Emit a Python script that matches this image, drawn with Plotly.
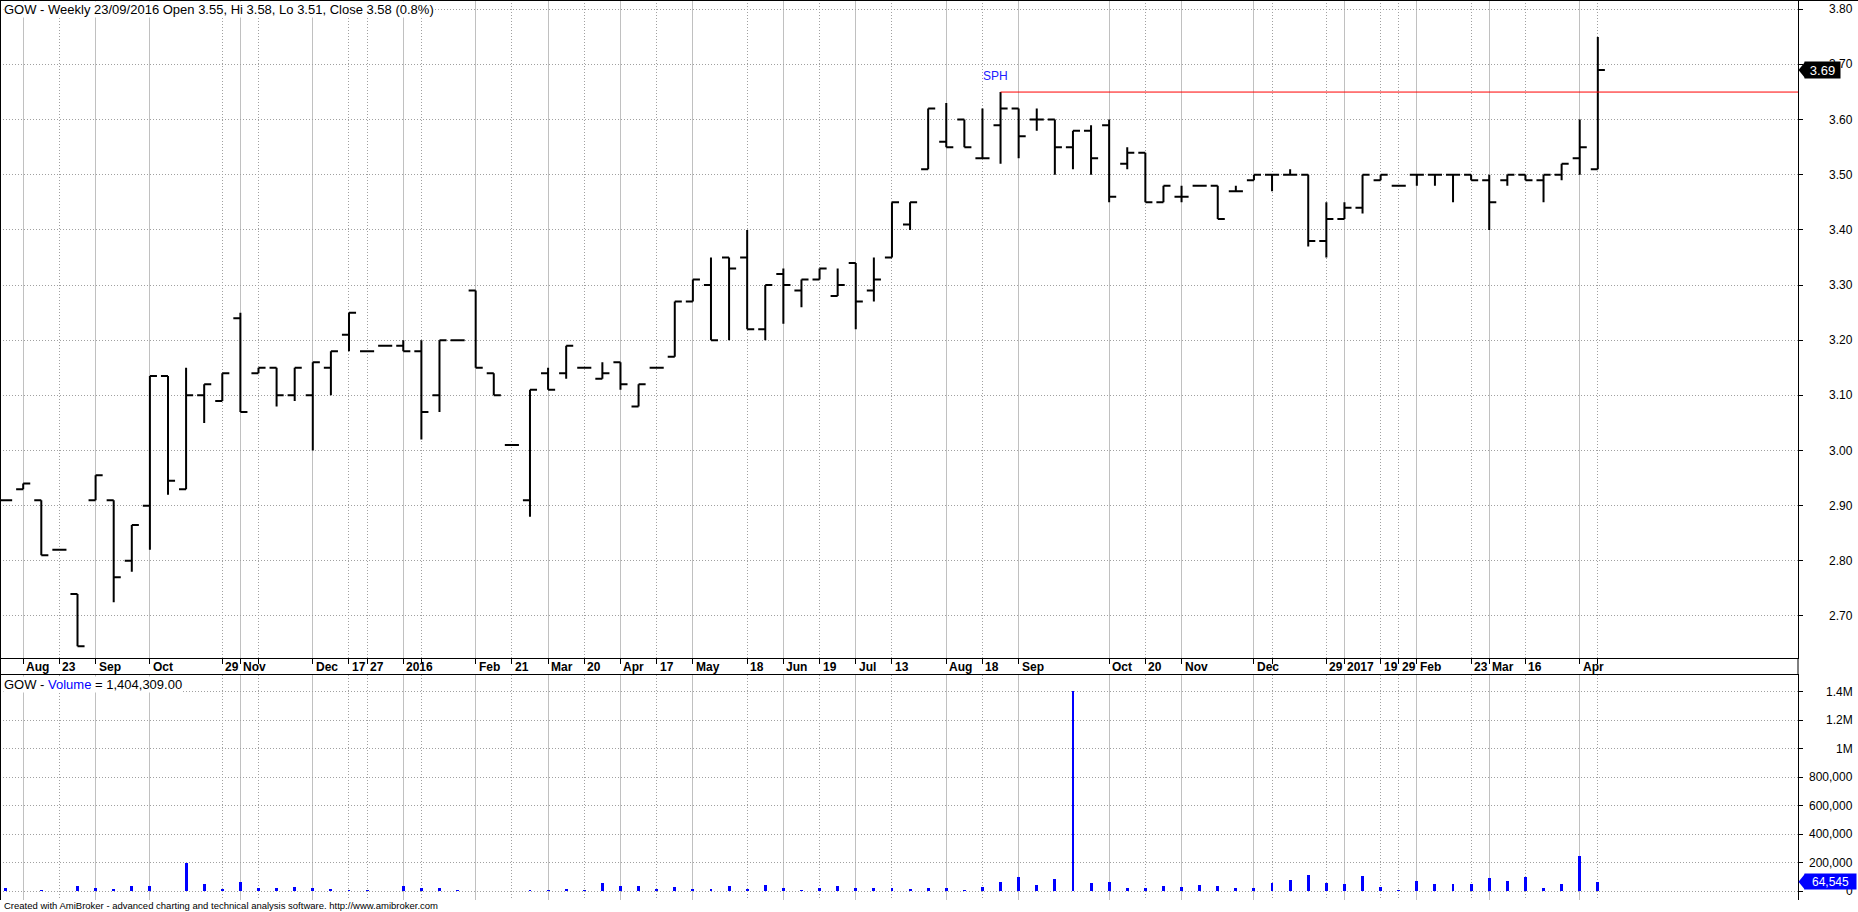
import plotly.graph_objects as go

# ---------------- data ----------------
bar_index = list(range(89))

opens = [2.91, 2.93, 2.91, 2.82, 2.74, 2.91, 2.91, 2.80, 2.90, 3.135,
         2.93, 3.10, 3.09, 3.24, 3.14, 3.15, 3.10, 3.10, 3.15, 3.21,
         3.18, 3.19, 3.19, 3.18, 3.10, 3.20, 3.29, 3.14, 3.01, 2.91,
         3.14, 3.14, 3.15, 3.13, 3.16, 3.08, 3.15, 3.17, 3.27, 3.30,
         3.35, 3.35, 3.22, 3.32, 3.29, 3.31, 3.28, 3.34, 3.29, 3.35,
         3.41, 3.51, 3.56, 3.60, 3.53, 3.59, 3.62, 3.60, 3.60, 3.55,
         3.58, 3.59, 3.52, 3.54, 3.45, 3.46, 3.48, 3.48, 3.47, 3.49,
         3.50, 3.50, 3.50, 3.38, 3.42, 3.44, 3.49, 3.48, 3.50, 3.50,
         3.50, 3.50, 3.49, 3.49, 3.50, 3.49, 3.50, 3.53, 3.51]
highs = [2.91, 2.94, 2.91, 2.82, 2.74, 2.955, 2.91, 2.865, 3.135, 3.135,
         3.15, 3.12, 3.14, 3.25, 3.15, 3.15, 3.15, 3.16, 3.18, 3.25,
         3.18, 3.19, 3.20, 3.20, 3.20, 3.20, 3.29, 3.14, 3.01, 3.11,
         3.15, 3.19, 3.15, 3.16, 3.16, 3.12, 3.15, 3.27, 3.31, 3.35,
         3.35, 3.40, 3.30, 3.33, 3.31, 3.33, 3.33, 3.34, 3.35, 3.45,
         3.45, 3.62, 3.63, 3.60, 3.62, 3.65, 3.62, 3.62, 3.60, 3.58,
         3.59, 3.60, 3.55, 3.54, 3.48, 3.48, 3.48, 3.48, 3.48, 3.50,
         3.50, 3.51, 3.50, 3.45, 3.45, 3.50, 3.50, 3.48, 3.50, 3.50,
         3.50, 3.50, 3.50, 3.50, 3.50, 3.50, 3.52, 3.60, 3.75]
lows = [2.91, 2.93, 2.81, 2.82, 2.645, 2.91, 2.725, 2.78, 2.82, 2.92,
        2.93, 3.05, 3.09, 3.07, 3.14, 3.08, 3.09, 3.00, 3.10, 3.18,
        3.18, 3.19, 3.18, 3.02, 3.07, 3.20, 3.15, 3.10, 3.01, 2.88,
        3.11, 3.13, 3.15, 3.13, 3.11, 3.08, 3.15, 3.17, 3.27, 3.20,
        3.20, 3.22, 3.20, 3.23, 3.26, 3.31, 3.28, 3.22, 3.27, 3.35,
        3.40, 3.51, 3.55, 3.55, 3.53, 3.52, 3.53, 3.58, 3.50, 3.51,
        3.50, 3.45, 3.51, 3.45, 3.45, 3.45, 3.48, 3.42, 3.47, 3.49,
        3.47, 3.50, 3.37, 3.35, 3.42, 3.43, 3.49, 3.48, 3.48, 3.48,
        3.45, 3.49, 3.40, 3.48, 3.49, 3.45, 3.49, 3.50, 3.51]
closes = [2.91, 2.94, 2.81, 2.82, 2.645, 2.955, 2.77, 2.865, 3.135, 2.945,
          3.10, 3.12, 3.14, 3.07, 3.15, 3.10, 3.15, 3.16, 3.18, 3.25,
          3.18, 3.19, 3.18, 3.07, 3.20, 3.20, 3.15, 3.10, 3.01, 3.11,
          3.11, 3.19, 3.15, 3.14, 3.12, 3.12, 3.15, 3.27, 3.31, 3.20,
          3.33, 3.22, 3.30, 3.30, 3.31, 3.33, 3.30, 3.27, 3.31, 3.45,
          3.45, 3.62, 3.55, 3.55, 3.53, 3.62, 3.57, 3.60, 3.55, 3.58,
          3.53, 3.46, 3.54, 3.45, 3.48, 3.46, 3.48, 3.42, 3.47, 3.50,
          3.50, 3.50, 3.38, 3.42, 3.44, 3.50, 3.50, 3.48, 3.50, 3.50,
          3.50, 3.49, 3.45, 3.50, 3.49, 3.50, 3.52, 3.55, 3.69]
volumes = [21000, 0, 7000, 0, 35000, 21000, 14000, 35000, 35000, 0,
           197000, 49000, 14000, 63000, 21000, 21000, 28000, 21000, 14000, 7000,
           7000, 0, 35000, 21000, 21000, 7000, 0, 0, 0, 7000,
           7000, 14000, 7000, 56000, 35000, 35000, 14000, 28000, 14000, 14000,
           35000, 14000, 42000, 21000, 7000, 21000, 35000, 21000, 21000, 21000,
           14000, 21000, 21000, 7000, 28000, 63000, 98000, 42000, 84000, 1404309,
           56000, 63000, 21000, 21000, 35000, 28000, 42000, 35000, 21000, 21000,
           56000, 77000, 112000, 56000, 49000, 105000, 28000, 7000, 70000, 49000,
           49000, 49000, 91000, 70000, 98000, 21000, 49000, 246000, 64545]

date_label_index = [1, 3, 5, 8, 12, 13, 17, 19, 20, 22,
                    26, 28, 30, 32, 34, 36, 38, 41, 43, 45,
                    47, 49, 52, 54, 56, 61, 63, 65, 69, 73,
                    74, 76, 77, 78, 81, 82, 84, 87]
date_label_text = ['Aug', '23', 'Sep', 'Oct', '29', 'Nov', 'Dec', '17', '27', '2016',
                   'Feb', '21', 'Mar', '20', 'Apr', '17', 'May', '18', 'Jun', '19',
                   'Jul', '13', 'Aug', '18', 'Sep', 'Oct', '20', 'Nov', 'Dec', '29',
                   '2017', '19', '29', 'Feb', '23', 'Mar', '16', 'Apr']
month_grid_index = [1, 5, 8, 13, 17, 22, 26, 30, 34, 38, 43, 47, 52, 56, 61, 65, 69, 74, 78, 82, 87]
week_grid_index = [3, 12, 14, 19, 20, 23, 28, 32, 36, 41, 45, 49, 54, 63, 70, 73, 76, 77, 81, 84, 88]

price_ticks = [2.70, 2.80, 2.90, 3.00, 3.10, 3.20, 3.30, 3.40, 3.50, 3.60, 3.70, 3.80]
volume_ticks = [0, 200000, 400000, 600000, 800000, 1000000, 1200000, 1400000]
volume_tick_text = ['0', '200,000', '400,000', '600,000', '800,000', '1M', '1.2M', '1.4M']

title_text = 'GOW - Weekly 23/09/2016 Open 3.55, Hi 3.58, Lo 3.51, Close 3.58 (0.8%)'
volume_title = 'GOW - <span style="color:#0000FF">Volume</span> = 1,404,309.00'
footer_text = 'Created with AmiBroker - advanced charting and technical analysis software. http://www.amibroker.com'
sph_index = 55
sph_label = 'SPH'

# ---------------- layout geometry ----------------
W, H = 1858, 912
PLOT_W, PLOT_H = 1798, 900
PRICE_TOP, PRICE_BOT = 0, 658
VOL_TOP, VOL_BOT = 675, 900
X_RANGE = [-0.282, 99.06]
P_RANGE = [2.6238, 3.8169]
V_RANGE = [-63200, 1517000]
FONT = 'Liberation Sans, Arial, sans-serif'
GRID_SOLID = '#c0c0c0'
GRID_DOT = '#a0a0a0'
DOT = '1px,2px'

price_domain = [(PLOT_H - PRICE_BOT) / PLOT_H, (PLOT_H - PRICE_TOP) / PLOT_H]
vol_domain = [(PLOT_H - VOL_BOT) / PLOT_H, (PLOT_H - VOL_TOP) / PLOT_H]


def px_x(px):
    return px / PLOT_W


def px_y(py):
    return (PLOT_H - py) / PLOT_H


def price_py(v):
    return PRICE_TOP + (P_RANGE[1] - v) / (P_RANGE[1] - P_RANGE[0]) * (PRICE_BOT - PRICE_TOP)


def vol_py(v):
    return VOL_TOP + (V_RANGE[1] - v) / (V_RANGE[1] - V_RANGE[0]) * (VOL_BOT - VOL_TOP)


sph_level = highs[sph_index]

fig = go.Figure()
fig.add_trace(go.Scatter(x=[sph_index, X_RANGE[1]], y=[sph_level, sph_level], mode='lines',
                         line=dict(color='#FF0000', width=1), xaxis='x', yaxis='y',
                         hoverinfo='skip', showlegend=False))
fig.add_trace(go.Ohlc(x=bar_index, open=opens, high=highs, low=lows, close=closes,
                      increasing=dict(line=dict(color='black', width=2)),
                      decreasing=dict(line=dict(color='black', width=2)),
                      tickwidth=0.39, xaxis='x', yaxis='y', hoverinfo='skip', showlegend=False))
fig.add_trace(go.Bar(x=bar_index, y=volumes, width=0.16,
                     marker=dict(color='#0000FF', line=dict(width=0)),
                     xaxis='x2', yaxis='y2', hoverinfo='skip', showlegend=False))

fig.update_layout(
    width=W, height=H,
    margin=dict(l=0, r=W - PLOT_W, t=0, b=H - PLOT_H, pad=0),
    paper_bgcolor='white', plot_bgcolor='white',
    showlegend=False, bargap=0,
    font=dict(family=FONT, size=12, color='black'),
    xaxis=dict(domain=[0, 1], anchor='y', range=X_RANGE, tickmode='array', tickvals=month_grid_index,
               showticklabels=False, ticks='outside', ticklen=5, tickcolor='black', tickwidth=1,
               showgrid=True, gridcolor=GRID_SOLID, gridwidth=1, zeroline=False,
               showline=True, linecolor='black', linewidth=1,
               rangeslider=dict(visible=False),
               minor=dict(tickmode='array', tickvals=week_grid_index, ticks='outside', ticklen=5,
                          tickcolor='black', tickwidth=1, showgrid=True, gridcolor=GRID_DOT,
                          gridwidth=1, griddash=DOT)),
    xaxis2=dict(domain=[0, 1], anchor='y2', matches='x', range=X_RANGE, tickmode='array',
                tickvals=month_grid_index, showticklabels=False, ticks='', side='top',
                showgrid=True, gridcolor=GRID_SOLID, gridwidth=1, zeroline=False,
                showline=True, linecolor='black', linewidth=1,
                minor=dict(tickmode='array', tickvals=week_grid_index, ticks='', showgrid=True,
                           gridcolor=GRID_DOT, gridwidth=1, griddash=DOT)),
    yaxis=dict(domain=price_domain, anchor='x', range=P_RANGE, side='right', tickmode='array',
               tickvals=price_ticks, showticklabels=False, ticks='outside', ticklen=4,
               tickcolor='black', showgrid=True, gridcolor=GRID_DOT, griddash=DOT, gridwidth=1,
               zeroline=False, showline=True, linecolor='black', linewidth=1),
    yaxis2=dict(domain=vol_domain, anchor='x2', range=V_RANGE, side='right', tickmode='array',
                tickvals=volume_ticks, showticklabels=False, ticks='outside', ticklen=4,
                tickcolor='black', showgrid=True, gridcolor=GRID_DOT, griddash=DOT, gridwidth=1,
                zeroline=False, showline=True, linecolor='black', linewidth=1),
)

ann = []
# titles
ann.append(dict(text=title_text, xref='paper', yref='paper', x=0, y=1, xanchor='left', yanchor='top',
                xshift=3, yshift=-1, showarrow=False, bgcolor='white', borderpad=0,
                font=dict(size=13, color='black')))
ann.append(dict(text=volume_title, xref='paper', yref='paper', x=0, y=vol_domain[1], xanchor='left',
                yanchor='top', xshift=3, yshift=-1, showarrow=False, bgcolor='white', borderpad=0,
                font=dict(size=13, color='black')))
ann.append(dict(text=footer_text, xref='paper', yref='paper', x=0, y=px_y(906), xanchor='left',
                yanchor='middle', xshift=2, showarrow=False, font=dict(size=9.5, color='black')))
# SPH label
ann.append(dict(text=sph_label, xref='x', yref='y', x=sph_index - 0.3, y=sph_level, yshift=16,
                xanchor='center', yanchor='middle', showarrow=False,
                font=dict(size=12, color='#2020FF')))
# date labels
band_y = px_y((PRICE_BOT + VOL_TOP) / 2 + 0.5)
for i, t in zip(date_label_index, date_label_text):
    ann.append(dict(text='<b>' + t + '</b>', xref='x', yref='paper', x=i, y=band_y, xanchor='left',
                    yanchor='middle', xshift=1, showarrow=False, font=dict(size=12, color='black')))
# axis labels
lab_x = px_x(1855)
for v in price_ticks:
    ann.append(dict(text=f'{v:.2f}', xref='paper', yref='y', x=lab_x, y=v, xanchor='right',
                    yanchor='middle', showarrow=False, font=dict(size=12, color='black')))
for v, t in zip(volume_ticks, volume_tick_text):
    ann.append(dict(text=t, xref='paper', yref='y2', x=lab_x, y=v, xanchor='right',
                    yanchor='middle', showarrow=False, font=dict(size=12, color='black')))
# last value markers
last_close = closes[-1]
last_vol = volumes[-1]
ann.append(dict(text=f'{last_close:.2f}', xref='paper', yref='y', x=px_x(1804), y=last_close,
                xanchor='left', yanchor='middle', showarrow=False, bgcolor='black',
                width=35, height=16, borderpad=0, align='center',
                font=dict(size=13, color='white')))
ann.append(dict(text=f'{last_vol:,}', xref='paper', yref='y2', x=px_x(1804), y=last_vol,
                xanchor='left', yanchor='middle', showarrow=False, bgcolor='#0000FF',
                width=51, height=15, borderpad=0, align='center',
                font=dict(size=12, color='white')))
fig.update_layout(annotations=ann)

shapes = []
# borders
shapes.append(dict(type='line', xref='paper', yref='paper', x0=0, x1=px_x(W), y0=px_y(0.5), y1=px_y(0.5),
                   line=dict(color='black', width=1)))
shapes.append(dict(type='line', xref='paper', yref='paper', x0=px_x(0.5), x1=px_x(0.5), y0=0, y1=1,
                   line=dict(color='black', width=1)))
shapes.append(dict(type='line', xref='paper', yref='paper', x0=1, x1=1, y0=vol_domain[1], y1=price_domain[0],
                   line=dict(color='black', width=1)))
# marker arrows
for py, col in ((price_py(last_close), 'black'), (vol_py(last_vol), '#0000FF')):
    path = (f'M {px_x(1798.5)},{px_y(py)} L {px_x(1805)},{px_y(py - 8)} '
            f'L {px_x(1805)},{px_y(py + 8)} Z')
    shapes.append(dict(type='path', xref='paper', yref='paper', path=path, fillcolor=col,
                       line=dict(width=0), layer='above'))
fig.update_layout(shapes=shapes)

fig.write_html('out.html',
               config={'displayModeBar': False, 'staticPlot': True},
               post_script="document.body.style.margin='0';document.body.style.padding='0';"
                           "document.body.style.overflow='hidden';")
